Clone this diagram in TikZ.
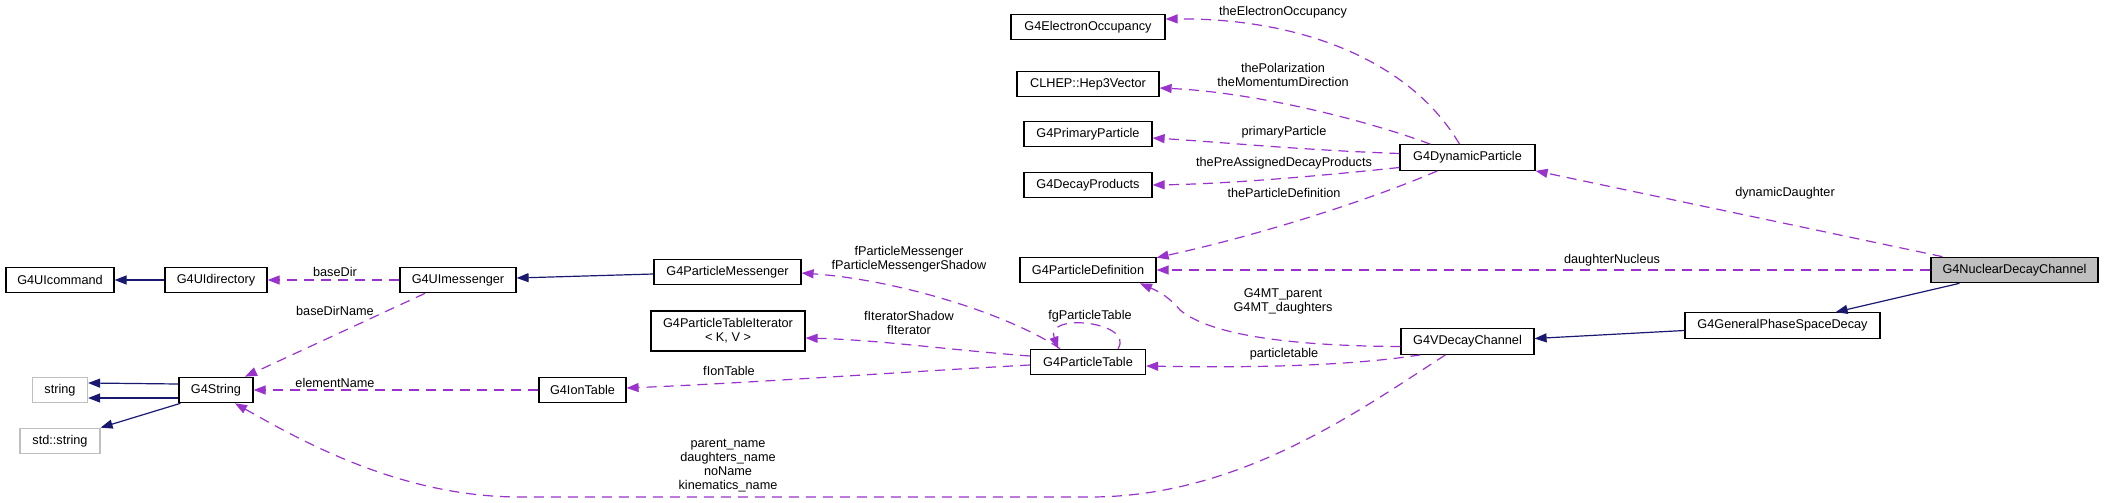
\documentclass[tikz,border=0pt]{standalone}
\usepackage{fontspec}
\setmainfont{Liberation Sans}
\usepackage{xcolor}
\usepackage{tikz}
\usetikzlibrary{calc,arrows.meta}

\definecolor{edgeblue}{HTML}{191970}
\definecolor{edgepurple}{HTML}{9A32CD}
\definecolor{boxgray}{HTML}{BFBFBF}

\begin{document}
\begin{tikzpicture}[x=0.5pt,y=-0.5pt,
  font=\fontsize{6.35}{7}\selectfont,
  cls/.style={draw=black,fill=white,line width=0.6pt,minimum height=12.75pt,inner sep=1pt},
  ext/.style={cls,draw=boxgray},
  inherit/.style={draw=edgeblue,line width=0.6pt,-{Triangle[length=6pt,width=4.5pt]}},
  uses/.style={draw=edgepurple,line width=0.6pt,dash pattern=on 5pt off 3.5pt,-{Triangle[length=6pt,width=4.5pt]}},
  lbl/.style={align=center,inner sep=0pt}]
  \useasboundingbox (0,0) rectangle (2104,503);

  \node[cls,minimum width=54pt] (cmd) at (60,280) {G4UIcommand};
  \node[cls,minimum width=51pt] (dir) at (216,280) {G4UIdirectory};
  \node[cls,minimum width=58pt] (msgr) at (458,280) {G4UImessenger};
  \node[cls,minimum width=37pt] (str) at (216,390) {G4String};
  \node[ext,minimum width=27.5pt] (string) at (60,390) {string};
  \node[ext,minimum width=40pt] (stdstr) at (60,441) {std::string};
  \node[cls,minimum width=73.5pt] (pmsg) at (727.5,272) {G4ParticleMessenger};
  \node[cls,minimum width=77pt,minimum height=20pt,align=center] (iter) at (728,331) {G4ParticleTableIterator\\< K, V >};
  \node[cls,minimum width=43.5pt] (ion) at (582.5,390) {G4IonTable};
  \node[cls,minimum width=57.5pt] (ptab) at (1088,362) {G4ParticleTable};
  \node[cls,minimum width=77pt] (eocc) at (1088,27) {G4ElectronOccupancy};
  \node[cls,minimum width=71pt] (hep) at (1088,84) {CLHEP::Hep3Vector};
  \node[cls,minimum width=64pt] (prim) at (1088,134) {G4PrimaryParticle};
  \node[cls,minimum width=64pt] (dprod) at (1088,185) {G4DecayProducts};
  \node[cls,minimum width=68pt] (pdef) at (1088,270) {G4ParticleDefinition};
  \node[cls,minimum width=67.5pt] (dyn) at (1467.5,157.5) {G4DynamicParticle};
  \node[cls,minimum width=66.5pt] (vdc) at (1467.5,341.5) {G4VDecayChannel};
  \node[cls,fill=boxgray,minimum width=83.5pt] (ndc) at (2014.5,270) {G4NuclearDecayChannel};
  \node[cls,minimum width=97.5pt] (gpsd) at (1782.5,325.5) {G4GeneralPhaseSpaceDecay};

  \draw[inherit] (dir) -- (cmd);
  \draw[uses] (msgr) -- (dir) node[lbl] at (335,272) {baseDir};
  \draw[uses] ($(msgr.south)+(-33,0)$) -- ($(str.north)+(29,0)$) node[lbl] at (335,311) {baseDirName};
  \draw[inherit] ($(pmsg.west)+(0,2)$) -- ($(msgr.east)+(0,-2)$);
  \draw[inherit] ($(str.west)+(0,-6)$) -- ($(string.east)+(0,-7)$);
  \draw[inherit] ($(str.west)+(0,8)$) -- ($(string.east)+(0,8)$);
  \draw[inherit] ($(str.south west)+(2,0)$) -- (stdstr.north east);
  \draw[uses] (ion) -- (str) node[lbl] at (335,383) {elementName};
  \draw[uses] ($(vdc.south)+(-22,0)$) .. controls (1360,410) and (1240,497) .. (1090,497) -- (520,497)
    .. controls (400,497) and (300,440) .. ($(str.south)+(19,0)$)
    node[lbl] at (728,466) {parent\_name\\daughters\_name\\noName\\kinematics\_name};
  \draw[uses] ($(ptab.north)+(-28,0)$) .. controls (1010,315) and (900,280) .. ($(pmsg.east)+(0,1)$)
    node[lbl] at (909,259) {fParticleMessenger\\fParticleMessengerShadow};
  \draw[uses] ($(ptab.north)+(30,0)$) .. controls (1135,322) and (1045,312) .. ($(ptab.north)+(-30,0)$)
    node[lbl] at (1090,316) {fgParticleTable};
  \draw[uses] ($(ptab.west)+(0,-6)$) .. controls (950,350) and (880,340) .. ($(iter.east)+(0,7)$)
    node[lbl] at (909,323) {fIteratorShadow\\fIterator};
  \draw[uses] ($(ptab.west)+(0,3)$) .. controls (900,372) and (750,383) .. ($(ion.east)+(0,-2)$)
    node[lbl] at (729,371) {fIonTable};
  \draw[uses] ($(dyn.north)+(-8,0)$) .. controls (1410,60) and (1300,18) .. ($(eocc.east)+(0,-8)$)
    node[lbl] at (1283,12) {theElectronOccupancy};
  \draw[uses] ($(dyn.north west)+(31,0)$) .. controls (1360,118) and (1250,92) .. ($(hep.east)+(0,4)$)
    node[lbl] at (1283,75) {thePolarization\\theMomentumDirection};
  \draw[uses] ($(dyn.west)+(0,-4)$) .. controls (1300,150) and (1220,142) .. ($(prim.east)+(0,4)$)
    node[lbl] at (1284,132) {primaryParticle};
  \draw[uses] ($(dyn.west)+(0,10)$) .. controls (1300,178) and (1220,184) .. (dprod.east)
    node[lbl] at (1284,163) {thePreAssignedDecayProducts};
  \draw[uses] ($(dyn.south)+(-30,0)$) .. controls (1370,200) and (1260,235) .. ($(pdef.north east)+(0,1)$)
    node[lbl] at (1284,193) {theParticleDefinition};
  \draw[uses] ($(ndc.north west)+(12,0)$) -- (dyn.south east) node[lbl] at (1785,193) {dynamicDaughter};
  \draw[uses] (ndc) -- (pdef) node[lbl] at (1612,260) {daughterNucleus};
  \draw[inherit] ($(ndc.south west)+(29,0)$) -- ($(gpsd.north east)+(-45,0)$);
  \draw[inherit] ($(gpsd.west)+(0,5)$) -- ($(vdc.east)+(0,-3)$);
  \draw[uses] ($(vdc.west)+(0,5)$) .. controls (1290,346) and (1210,335) .. (1180,310)
    .. controls (1170,298) and (1160,292) .. ($(pdef.south)+(52,0)$)
    node[lbl] at (1283,301) {G4MT\_parent\\G4MT\_daughters};
  \draw[uses] ($(vdc.south west)+(20,0)$) .. controls (1350,366) and (1250,368) .. ($(ptab.east)+(0,4)$)
    node[lbl] at (1284,354) {particletable};
\end{tikzpicture}
\end{document}
